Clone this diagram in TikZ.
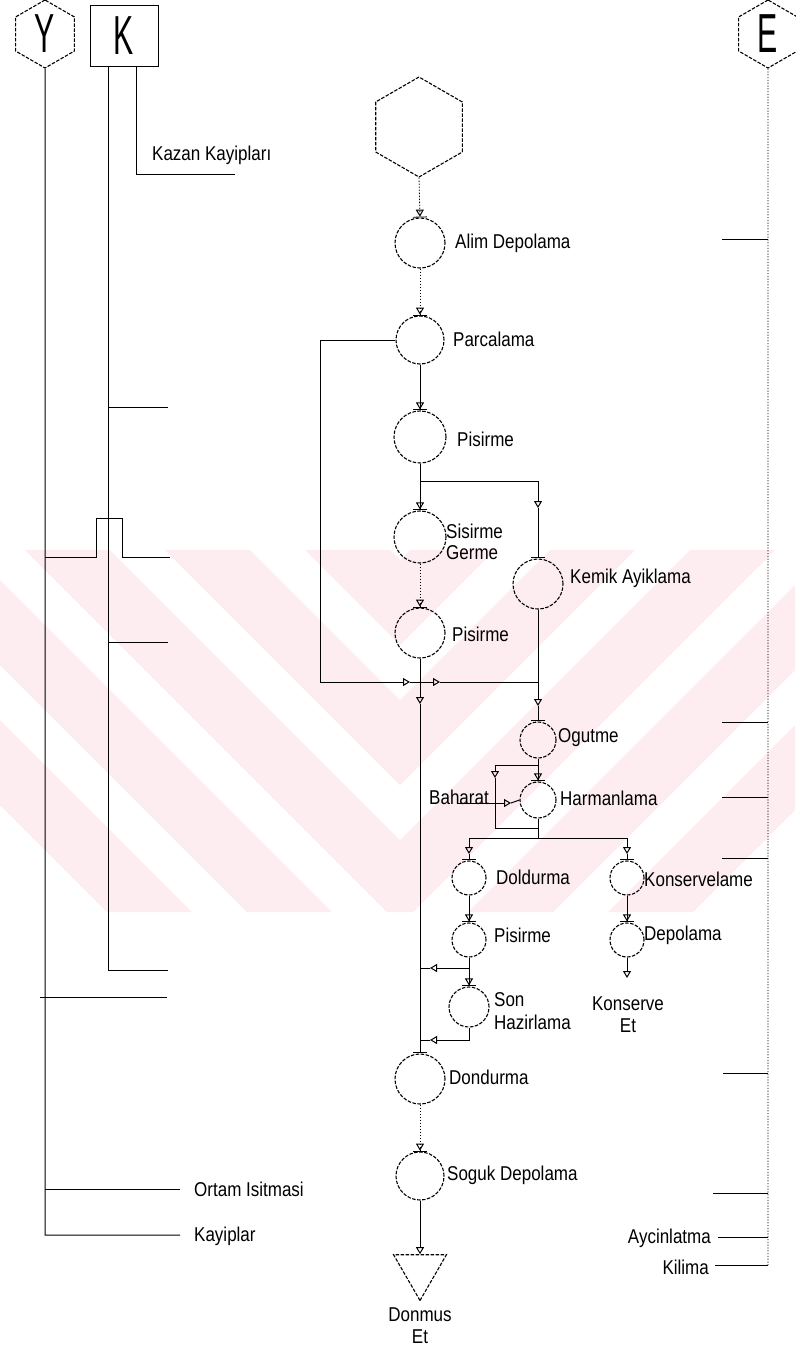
\documentclass[tikz,border=0pt]{standalone}
\usepackage{fontspec}
\setmainfont{Liberation Sans}[FakeStretch=0.85]
\newfontfamily\hexfont{Liberation Sans}[FakeStretch=0.55]
\usetikzlibrary{arrows.meta,shapes.geometric}
\definecolor{wmpink}{RGB}{253,237,240}
\begin{document}
\begin{tikzpicture}[x=1pt,y=-1pt,
  proc/.style={circle,draw,line width=1.1pt,dash pattern=on 3.5pt off 1.5pt,inner sep=0pt,minimum size=#1},
  hexa/.style={regular polygon,regular polygon sides=6,shape border rotate=30,draw,line width=1.1pt,dash pattern=on 3.5pt off 1.5pt,inner sep=0pt,minimum size=#1},
  flow/.style={line width=1pt},
  dflow/.style={line width=0.8pt,dash pattern=on 1.5pt off 1.5pt},
  eline/.style={line width=0.7pt,dash pattern=on 1.2pt off 1.6pt},
  lab/.style={anchor=west,inner sep=0pt,font=\fontsize{20}{20}\selectfont},
  labe/.style={anchor=east,inner sep=0pt,font=\fontsize{20}{20}\selectfont},
  labc/.style={align=center,inner sep=0pt,font=\fontsize{20}{22}\selectfont},
  big/.style={font=\hexfont\fontsize{55}{55}\selectfont},
  tip/.style={-{Triangle[open,length=7pt,width=8pt,line width=1pt]}},
  tipb/.style={-{Triangle[open,length=7pt,width=8pt,line width=1pt] Bar[width=14pt]}},
  bar/.style={-{Bar[width=14pt]}},
]
\useasboundingbox (0,0) rectangle (795,1348);
\fill[white] (0,0) rectangle (795,1348);

% ---------- faint watermark band ----------
\begin{scope}
\clip (0,550) rectangle (400,912);
\foreach \a in {160,300,440,580,720}
  \fill[wmpink] (550-\a,550) -- (912-\a,912) -- (912-\a-85,912) -- (550-\a-85,550) -- cycle;
\end{scope}
\begin{scope}
\clip (400,550) rectangle (795,912);
\foreach \a in {160,300,440,580,720}
  \fill[wmpink] (250+\a,550) -- (-112+\a,912) -- (-112+\a+85,912) -- (250+\a+85,550) -- cycle;
\end{scope}

% ---------- side headers ----------
\node[hexa=68,big] (Y) at (45,34) {Y};
\node[draw,line width=1pt,minimum width=68pt,minimum height=61pt,inner sep=0pt,big] (K) at (124,36) {K};
\node[hexa=68,big] (E) at (768,34) {E};

% ---------- Y system ----------
\coordinate (yEnd) at (45,1235);
\coordinate (yKay) at (180,1235);
\draw[flow] (Y.south) -- (yEnd) -- (yKay);
\coordinate (yb0) at (45,557);
\draw[flow] (yb0) -- ++(51,0) -- ++(0,-39) -- ++(26,0) -- ++(0,39) -- ++(48,0);
\coordinate (yc0) at (40,997);
\draw[flow] (yc0) -- ++(127,0);
\coordinate (yd0) at (45,1189);
\draw[flow] (yd0) -- ++(135,0);
\node[lab] (ort) at (194,1189) {Ortam Isitmasi};
\node[lab] (kay) at (194,1236) {Kayiplar};

% ---------- K system ----------
\coordinate (k1End) at (168,970);
\draw[flow] ([xshift=-16pt]K.south) |- (k1End);
\coordinate (ka1) at (108,407);
\draw[flow] (ka1) -- ++(60,0);
\coordinate (ka2) at (108,642);
\draw[flow] (ka2) -- ++(60,0);
\coordinate (k2End) at (235,175);
\draw[flow] ([xshift=12pt]K.south) |- (k2End);
\node[lab] (kazan) at (152,155) {Kazan Kayipları};

% ---------- E system ----------
\coordinate (eEnd) at (768,1265);
\draw[eline] (E.south) -- (eEnd);
\foreach \yy/\xx in {240/722,722/722,797/722,858/722,1073/723,1193/713,1237/718,1265/715}
  \draw[flow] (\xx,\yy) -- (768,\yy);
\node[labe] (ayd) at (711,1238) {Aycinlatma};
\node[labe] (kli) at (709,1267) {Kilima};

% ---------- main flow nodes ----------
\node[hexa=100] (H0) at (419,127) {};
\node[proc=50] (c1) at (420,243) {};
\node[proc=48] (c2) at (420,340) {};
\node[proc=52] (c3) at (420,437) {};
\node[proc=52] (c4) at (420,537) {};
\node[proc=50] (c5) at (420,633) {};
\node[proc=50] (c6) at (538,584) {};
\node[proc=36] (c7) at (538,740) {};
\node[proc=36] (c8) at (538,800) {};
\node[proc=34] (c9) at (469,878) {};
\node[proc=34] (c10) at (627,878) {};
\node[proc=34] (c11) at (469,940) {};
\node[proc=34] (c12) at (627,940) {};
\node[proc=40] (c13) at (469,1007) {};
\node[proc=50] (c14) at (420,1079) {};
\node[proc=48] (c15) at (420,1176) {};
\node[regular polygon,regular polygon sides=3,shape border rotate=180,draw,line width=1.1pt,dash pattern=on 3.5pt off 1.5pt,inner sep=0pt,minimum size=61pt] (tri) at (420,1270) {};

% ---------- labels ----------
\node[lab] (l1) at (455,243) {Alim Depolama};
\node[lab] (l2) at (453,339) {Parcalama};
\node[lab] (l3) at (457,439) {Pisirme};
\node[lab,align=left,font=\fontsize{20}{21}\selectfont] (l4) at (446,542) {Sisirme\\Germe};
\node[lab] (l5) at (452,634) {Pisirme};
\node[lab] (l6) at (570,578) {Kemik Ayiklama};
\node[lab] (l7) at (558,738) {Ogutme};
\node[lab] (l8) at (560,798) {Harmanlama};
\node[lab] (l9) at (496,877) {Doldurma};
\node[lab] (l10) at (644,879) {Konservelame};
\node[lab] (l11) at (494,935) {Pisirme};
\node[lab] (l12) at (644,935) {Depolama};
\node[lab,align=left,font=\fontsize{20}{23}\selectfont] (l13) at (494,1011) {Son\\Hazirlama};
\node[labc] (l14) at (628,1015) {Konserve\\Et};
\node[lab] (l15) at (449,1077) {Dondurma};
\node[lab] (l16) at (447,1175) {Soguk Depolama};
\node[labc] (l17) at (420,1326) {Donmus\\Et};
\node[labc] (bah) at (459,797) {Baharat};

% ---------- connectors ----------
\draw[dflow,tipb] (H0.south) -- (c1.north);
\draw[dflow,tipb] (c1.south) -- (c2.north);
\draw[flow,tipb] (c2.south) -- (c3.north);
\coordinate (J1) at (420,481);
\draw[flow] (c3.south) -- (J1);
\draw[flow,tipb] (J1) -- (c4.north);
\coordinate (m6) at (538,508);
\draw[flow,tip] (J1) -| (m6);
\draw[flow,bar] (m6) -- (c6.north);
\draw[dflow,tipb] (c4.south) -- (c5.north);

\coordinate (X) at (420,682);
\coordinate (m1) at (410,682);
\coordinate (m2) at (440,682);
\coordinate (JX) at (538,682);
\draw[flow,tip] (c2.west) -- ++(-75,0) |- (m1);
\draw[flow,tip] (m1) -- (m2);
\draw[flow] (m2) -- (JX);
\draw[flow] (c6.south) -- (JX);
\coordinate (m7) at (538,706);
\draw[flow,tip] (JX) -- (m7);
\draw[flow,bar] (m7) -- (c7.north);

\draw[flow] (c5.south) -- (X);
\coordinate (mX) at (420,704);
\draw[flow,tip] (X) -- (mX);
\draw[flow,bar] (mX) -- (c14.north);

\coordinate (T1) at (538,765);
\coordinate (T2) at (495,765);
\coordinate (mT2) at (495,778);
\coordinate (B1) at (538,828);
\coordinate (S1) at (538,838);
\draw[flow] (c7.south) -- (T1);
\draw[flow,tipb] (T1) -- (c8.north);
\draw[flow,tip] (T1) -- (T2) -- (mT2);
\draw[flow] (mT2) |- (B1);
\draw[flow] (c8.south) -- (S1);
\coordinate (bh0) at (457,803);
\coordinate (bh1) at (511,803);
\draw[flow,tip] (bh0) -- (bh1);
\draw[flow] (bh1) -- (c8.west);

\coordinate (md) at (469,854);
\coordinate (mk) at (627,854);
\draw[flow,tip] (S1) -| (md);
\draw[flow,tip] (S1) -| (mk);
\draw[flow,bar] (md) -- (c9.north);
\draw[flow,bar] (mk) -- (c10.north);
\draw[flow,tipb] (c9.south) -- (c11.north);
\draw[flow,tipb] (c10.south) -- (c12.north);
\coordinate (kend) at (627,978);
\draw[flow,tip] (c12.south) -- (kend);

\coordinate (J3) at (469,968);
\coordinate (m3) at (430,968);
\coordinate (X3) at (420,968);
\draw[flow] (c11.south) -- (J3);
\draw[flow,tipb] (J3) -- (c13.north);
\draw[flow,tip] (J3) -- (m3);
\draw[flow] (m3) -- (X3);
\coordinate (m4) at (430,1040);
\coordinate (X4) at (420,1040);
\draw[flow,tip] (c13.south) |- (m4);
\draw[flow] (m4) -- (X4);

\draw[dflow,tipb] (c14.south) -- (c15.north);
\draw[flow,tip] (c15.south) -- (tri.north);
\end{tikzpicture}
\end{document}
